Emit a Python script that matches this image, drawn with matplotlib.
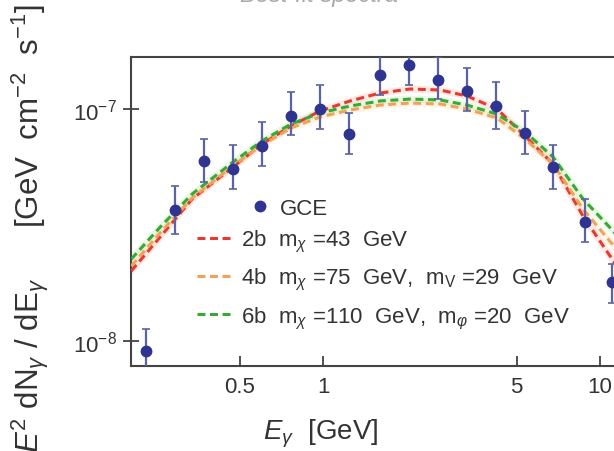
import matplotlib
matplotlib.use("Agg")
import matplotlib.pyplot as plt
from matplotlib.lines import Line2D

plt.rcParams['font.family'] = ['Liberation Sans', 'DejaVu Sans']
plt.rcParams['mathtext.fontset'] = 'custom'
plt.rcParams['mathtext.rm'] = 'Liberation Sans'
plt.rcParams['mathtext.it'] = 'Liberation Sans:italic'
plt.rcParams['mathtext.bf'] = 'Liberation Sans:bold'

# ---- GCE data points ----
gce_E = [0.23, 0.292, 0.372, 0.474, 0.602, 0.766, 0.975, 1.24, 1.61, 2.04,
         2.6, 3.31, 4.21, 5.36, 6.77, 8.83, 11.0]
gce_flux = [9.0e-9, 3.66e-8, 5.96e-8, 5.5e-8, 6.9e-8, 9.3e-8, 1.0e-7, 7.8e-8,
            1.40e-7, 1.55e-7, 1.33e-7, 1.20e-7, 1.03e-7, 7.9e-8, 5.6e-8,
            3.25e-8, 1.79e-8]
gce_hi = [1.12e-8, 4.66e-8, 7.42e-8, 7.0e-8, 8.8e-8, 1.18e-7, 1.27e-7, 9.6e-8,
          1.71e-7, 1.90e-7, 1.68e-7, 1.50e-7, 1.31e-7, 9.8e-8, 7.0e-8,
          4.1e-8, 2.14e-8]
gce_lo = [7.4e-9, 2.89e-8, 4.84e-8, 4.5e-8, 5.68e-8, 7.7e-8, 8.2e-8, 6.4e-8,
          1.15e-7, 1.27e-7, 1.10e-7, 9.8e-8, 8.2e-8, 6.4e-8, 4.5e-8,
          2.67e-8, 1.45e-8]

# ---- best-fit spectra ----
fit_E = [0.203, 0.258, 0.337, 0.473, 0.602, 0.766, 0.975, 1.252, 1.606, 2.062,
         2.645, 3.311, 4.248, 5.362, 6.766, 8.682, 11.23, 13.0]
fit_2b = [2.0e-8, 2.80e-8, 4.09e-8, 5.62e-8, 7.06e-8, 8.45e-8, 9.80e-8, 1.083e-7,
          1.172e-7, 1.22e-7, 1.208e-7, 1.138e-7, 1.0e-7, 7.64e-8, 5.79e-8,
          3.45e-8, 2.19e-8, 1.64e-8]
fit_4b = [2.10e-8, 2.92e-8, 4.13e-8, 5.68e-8, 6.99e-8, 8.28e-8, 9.24e-8, 9.9e-8,
          1.04e-7, 1.061e-7, 1.051e-7, 1.0e-7, 9.14e-8, 7.42e-8, 5.79e-8,
          3.70e-8, 2.56e-8, 2.04e-8]
fit_6b = [2.25e-8, 3.09e-8, 4.30e-8, 5.90e-8, 7.28e-8, 8.61e-8, 9.61e-8, 1.03e-7,
          1.083e-7, 1.104e-7, 1.094e-7, 1.04e-7, 9.5e-8, 7.96e-8, 6.21e-8,
          4.09e-8, 2.95e-8, 2.40e-8]

labels = [r'2b  m$_{\chi}$ =43  GeV',
          r'4b  m$_{\chi}$ =75  GeV,  m$_{\mathrm{V}}$ =29  GeV',
          r'6b  m$_{\chi}$ =110  GeV,  m$_{\varphi}$ =20  GeV']
colors = ['#e53a33', '#eea25a', '#38a838']
halo = ['#f7c0b0', '#f8e4b8', '#c8ecb0']

fig = plt.figure(figsize=(6.14, 4.52), dpi=100)
ax = fig.add_axes([0.2134, 0.188, 0.8298, 0.6836])
ax.set_xscale('log')
ax.set_yscale('log')
ax.set_xlim(0.2027, 14.0)
ax.set_ylim(7.78e-9, 1.676e-7)

for ys, h in zip([fit_2b, fit_4b, fit_6b], halo):
    ax.plot(fit_E, ys, color=h, lw=5, alpha=0.35, solid_capstyle='round', zorder=2)
line_handles = []
for ys, c, lab in zip([fit_2b, fit_4b, fit_6b], colors, labels):
    ln, = ax.plot(fit_E, ys, color=c, lw=2.2, ls=(0, (2.6, 1.5)), zorder=3, label=lab)
    line_handles.append(ln)

yerr = [[f - l for f, l in zip(gce_flux, gce_lo)],
        [h - f for f, h in zip(gce_flux, gce_hi)]]
ax.errorbar(gce_E, gce_flux, yerr=yerr, fmt='o', ms=7.5, color='#2e3490',
            mec='#2e3490', ecolor='#5a64a0', elinewidth=1.6, capsize=3,
            capthick=1.2, zorder=4)

ax.set_xticks([0.5, 1, 5, 10])
ax.set_xticklabels(['0.5', '1', '5', '10'])
ax.xaxis.set_minor_locator(matplotlib.ticker.NullLocator())
ax.set_yticks([1e-8, 1e-7])
ax.set_yticklabels([r'10$^{-8}$', r'10$^{-7}$'])
ax.yaxis.set_minor_locator(matplotlib.ticker.NullLocator())
ax.tick_params(axis='x', direction='in', length=7, width=1.2, pad=7,
               labelsize=16, colors='#333333')
ax.tick_params(axis='y', direction='inout', length=12, width=1.2, pad=4,
               labelsize=16, colors='#333333')
for s in ax.spines.values():
    s.set_color('#444444')
    s.set_linewidth(1.5)

ax.set_xlabel(r'$E_{\gamma}$  [GeV]', fontsize=20, color='#333333')
ax.xaxis.set_label_coords(0.372, -0.163)
ax.set_ylabel(r'$E^{2}$ dN$_{\gamma}$ / dE$_{\gamma}$      [GeV  cm$^{-2}$  s$^{-1}$]',
              fontsize=22.5, color='#333333')
ax.yaxis.set_label_coords(-0.157, 0.447)

gce_handle = Line2D([], [], ls='none', marker='o', ms=7.5, color='#2e3490')
leg1 = ax.legend([gce_handle], ['GCE'], loc='upper left', bbox_to_anchor=(0.2355, 0.5437),
                 frameon=False, fontsize=16, borderpad=0, borderaxespad=0,
                 handlelength=0.8, handletextpad=0.5)
for t in leg1.get_texts():
    t.set_color('#333333')
ax.add_artist(leg1)
leg2 = ax.legend(line_handles, labels, loc='upper left', bbox_to_anchor=(0.1295, 0.4466),
                 frameon=False, fontsize=16, borderpad=0, borderaxespad=0,
                 handlelength=1.5, handletextpad=0.5, labelspacing=0.55)
for t in leg2.get_texts():
    t.set_color('#333333')

fig.text(0.52, 0.9956, 'Best-fit spectra', fontsize=17, color='#aaaaaa',
         ha='center', va='baseline', style='italic')

fig.savefig('out.png', dpi=100)
